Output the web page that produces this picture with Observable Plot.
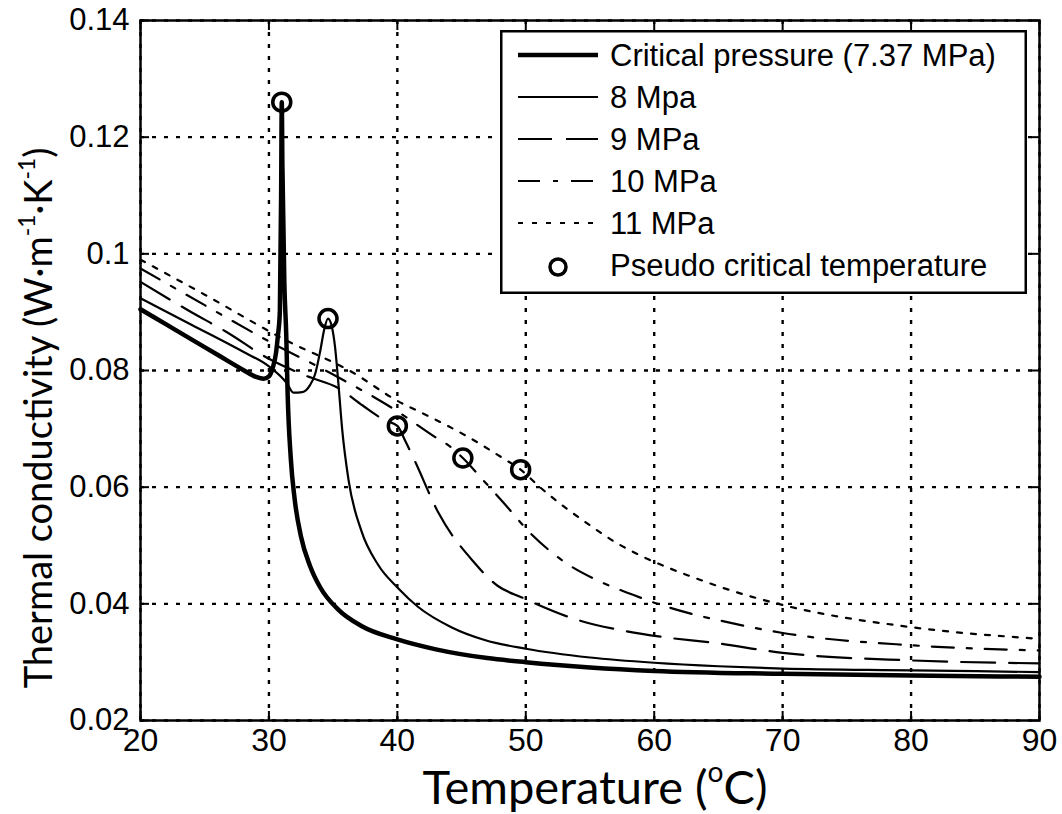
<!DOCTYPE html>
<html><head><meta charset="utf-8">
<script src="https://cdn.jsdelivr.net/npm/d3@7"></script>
<script src="https://cdn.jsdelivr.net/npm/@observablehq/plot@0.6"></script>
<style>
body{margin:0;background:#fff;}
#wrap{position:relative;width:1062px;height:814px;overflow:hidden;}
#ylab{position:absolute;left:37px;top:418px;transform:translate(-50%,-50%) rotate(-90deg);white-space:nowrap;font-family:Lato,sans-serif;font-size:38px;color:#000;}
#xlab{position:absolute;left:595px;top:786px;transform:translate(-50%,-50%);white-space:nowrap;font-family:Lato,sans-serif;font-size:47px;color:#000;line-height:1;}
sup{font-size:0.6em;vertical-align:0.75em;line-height:0;}
</style></head><body><div id="wrap"></div>
<script>
// ---- data ----
const T737 = [20, 22, 24, 26, 28, 29, 29.6, 30.0, 30.3, 30.55, 30.7, 30.85, 30.95, 31.0, 31.05, 31.2, 31.35, 31.45, 31.7, 32.0, 32.5, 33.2, 34.0, 35.4, 37.2, 40, 43, 47, 50, 55, 60, 70, 80, 90];
const K737 = [0.0905, 0.0879, 0.0853, 0.0827, 0.0801, 0.0789, 0.0786, 0.0790, 0.0805, 0.0830, 0.0860, 0.0900, 0.1100, 0.1260, 0.1150, 0.0950, 0.0860, 0.0765, 0.0650, 0.0580, 0.0515, 0.0465, 0.0428, 0.0390, 0.0362, 0.0339, 0.0322, 0.0307, 0.0300, 0.0291, 0.0285, 0.0280, 0.0277, 0.0275];

const T8 = [20, 24, 28, 30, 31.4, 31.9, 32.6, 33.2, 33.6, 34.0, 34.3, 34.6, 34.9, 35.15, 35.4, 35.7, 36.2, 37.2, 38.5, 40.1, 41.6, 44.2, 46.8, 50, 55, 60, 65, 70, 80, 90];
const K8 = [0.0924, 0.0878, 0.0832, 0.0807, 0.0778, 0.0762, 0.0763, 0.0775, 0.0794, 0.0834, 0.0870, 0.0889, 0.0875, 0.0840, 0.0780, 0.0700, 0.0612, 0.0525, 0.0467, 0.0426, 0.0395, 0.0360, 0.0338, 0.0323, 0.0308, 0.0299, 0.0293, 0.0289, 0.0286, 0.0283];

const T9 = [20, 23.8, 26.7, 30, 33, 35.4, 37.3, 39, 40.0, 40.6, 41.4, 43.2, 45.9, 47.8, 49.8, 51, 53.8, 57.6, 60.7, 64.7, 70, 80, 90];
const K9 = [0.0952, 0.0902, 0.0866, 0.0820, 0.0790, 0.0770, 0.0740, 0.0715, 0.0705, 0.0680, 0.0643, 0.0556, 0.0473, 0.0431, 0.0410, 0.0398, 0.0374, 0.0354, 0.0343, 0.0333, 0.0316, 0.0303, 0.0298];

const T10 = [20, 25, 30, 35, 40, 42.8, 44.2, 45.1, 46.6, 48.2, 50.5, 53, 55.6, 58.4, 60, 62.7, 65.2, 70, 80, 90];
const K10 = [0.0975, 0.0912, 0.0850, 0.0793, 0.0730, 0.0688, 0.0668, 0.0650, 0.0614, 0.0575, 0.0518, 0.0472, 0.0440, 0.0415, 0.0402, 0.0384, 0.0371, 0.0350, 0.0329, 0.0320];

const T11 = [20, 25, 31.4, 36.5, 40, 42.4, 45.2, 48.2, 49.6, 51.1, 53.2, 55.1, 57.1, 59, 61.3, 63.6, 65, 70, 80, 90];
const K11 = [0.0990, 0.0930, 0.0851, 0.0797, 0.0748, 0.0722, 0.0690, 0.0650, 0.0630, 0.0600, 0.0563, 0.0533, 0.0504, 0.0482, 0.0460, 0.0441, 0.0430, 0.0398, 0.0360, 0.0340];

const pcT = [31.0, 34.6, 40.0, 45.1, 49.6];
const pcK = [0.1260, 0.0889, 0.0705, 0.0650, 0.0630];

const xTicks = [20, 30, 40, 50, 60, 70, 80, 90];
const yTicks = [0.02, 0.04, 0.06, 0.08, 0.10, 0.12, 0.14];
const yTickLabels = ["0.02", "0.04", "0.06", "0.08", "0.1", "0.12", "0.14"];
const seriesNames = ["Critical pressure (7.37 MPa)", "8 Mpa", "9 MPa", "10 MPa", "11 MPa"];
const markerName = "Pseudo critical temperature";

// ---- styles ----
const styles = [
  {w: 4.5, dash: null},
  {w: 2.2, dash: null},
  {w: 2.2, dash: "34,14"},
  {w: 2.2, dash: "22,13,5,13"},
  {w: 2.2, dash: "5,9"}
];
const Ts = [T737, T8, T9, T10, T11];
const Ks = [K737, K8, K9, K10, K11];

const lineMarks = Ts.map((T, i) => Plot.line(T.map((t, j) => ({T: t, K: Ks[i][j]})), {
  x: "T", y: "K", stroke: "#000", strokeWidth: styles[i].w,
  strokeDasharray: styles[i].dash, curve: "monotone-x", strokeLinejoin: "round"
}));
const pc = pcT.map((t, i) => ({T: t, K: pcK[i]}));

const font = "'Liberation Sans', Arial, sans-serif";
const chart = Plot.plot({
  width: 1062, height: 814,
  marginLeft: 140, marginRight: 23, marginTop: 20, marginBottom: 94,
  style: {fontFamily: font, background: "#fff", color: "#000"},
  x: {domain: [20, 90]},
  y: {domain: [0.02, 0.14]},
  marks: [
    Plot.gridX(xTicks, {stroke: "#000", strokeOpacity: 1, strokeWidth: 2.4, strokeDasharray: "4,8"}),
    Plot.gridY(yTicks, {stroke: "#000", strokeOpacity: 1, strokeWidth: 2.4, strokeDasharray: "4,8"}),
    ...lineMarks,
    Plot.dot(pc, {x: "T", y: "K", r: 9, stroke: "#000", strokeWidth: 3.5, fill: "none"}),
    Plot.axisX(xTicks, {anchor: "bottom", tickSize: -9, tickFormat: () => "", strokeWidth: 2, label: null}),
    Plot.axisX(xTicks, {anchor: "top", tickSize: -9, tickFormat: () => "", strokeWidth: 2, label: null}),
    Plot.axisY(yTicks, {anchor: "left", tickSize: -9, tickFormat: () => "", strokeWidth: 2, label: null}),
    Plot.axisY(yTicks, {anchor: "right", tickSize: -9, tickFormat: () => "", strokeWidth: 2, label: null}),
    Plot.axisX(xTicks, {anchor: "bottom", tickSize: 0, tickPadding: 8, fontSize: 32, label: null}),
    Plot.axisY(yTicks, {anchor: "left", tickSize: 0, tickPadding: 11, fontSize: 31, label: null,
      tickFormat: d => yTickLabels[yTicks.findIndex(v => Math.abs(v - d) < 1e-9)]}),
    Plot.frame({stroke: "#000", strokeWidth: 2.5})
  ]
});

const wrap = document.getElementById("wrap");
wrap.appendChild(chart);

// axis titles
const ylab = document.createElement("div");
ylab.id = "ylab";
ylab.innerHTML = "Thermal conductivity (W·m<sup>-1</sup>·K<sup>-1</sup>)";
wrap.appendChild(ylab);
const xlab = document.createElement("div");
xlab.id = "xlab";
xlab.innerHTML = "Temperature (<sup>o</sup>C)";
wrap.appendChild(xlab);

// legend
const ns = "http://www.w3.org/2000/svg";
const lw = 527, lh = 264;
const leg = document.createElementNS(ns, "svg");
leg.setAttribute("width", lw); leg.setAttribute("height", lh);
const box = document.createElementNS(ns, "rect");
box.setAttribute("x", 1.25); box.setAttribute("y", 1.25);
box.setAttribute("width", lw - 2.5); box.setAttribute("height", lh - 2.5);
box.setAttribute("fill", "#fff"); box.setAttribute("stroke", "#000"); box.setAttribute("stroke-width", 2.5);
leg.appendChild(box);
const labels = [...seriesNames, markerName];
labels.forEach((lab, i) => {
  const cy = 25 + i * 42;
  if (i < 5) {
    const ln = document.createElementNS(ns, "line");
    ln.setAttribute("x1", 18); ln.setAttribute("x2", 98);
    ln.setAttribute("y1", cy); ln.setAttribute("y2", cy);
    ln.setAttribute("stroke", "#000"); ln.setAttribute("stroke-width", styles[i].w);
    if (styles[i].dash) ln.setAttribute("stroke-dasharray", styles[i].dash);
    leg.appendChild(ln);
  } else {
    const c = document.createElementNS(ns, "circle");
    c.setAttribute("cx", 58); c.setAttribute("cy", cy + 2); c.setAttribute("r", 8);
    c.setAttribute("fill", "none"); c.setAttribute("stroke", "#000"); c.setAttribute("stroke-width", 3.5);
    leg.appendChild(c);
  }
  const t = document.createElementNS(ns, "text");
  t.setAttribute("x", 110); t.setAttribute("y", cy + 11);
  t.setAttribute("font-family", font); t.setAttribute("font-size", 31);
  t.textContent = lab;
  leg.appendChild(t);
});
leg.style.position = "absolute"; leg.style.left = "500px"; leg.style.top = "30px";
wrap.appendChild(leg);
</script>
</body></html>
